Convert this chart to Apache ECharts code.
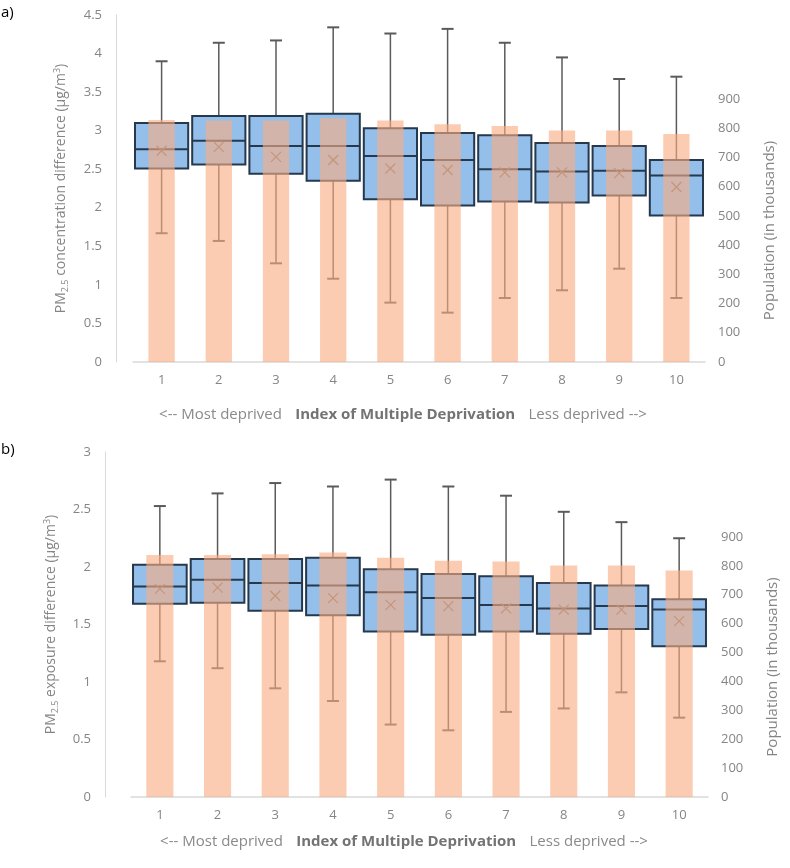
<!DOCTYPE html>
<html>
<head>
<meta charset="utf-8">
<script src="https://cdn.jsdelivr.net/npm/echarts@6/dist/echarts.min.js"></script>
<style>
html,body{margin:0;padding:0;background:#fff;}
#chart{width:790px;height:868px;}
</style>
</head>
<body>
<div id="chart"></div>
<script>
// ---- Data ----
const categories = ['1','2','3','4','5','6','7','8','9','10'];

// Panel a: PM2.5 concentration difference
const aWhiskerHigh = [3.90, 4.14, 4.17, 4.34, 4.26, 4.32, 4.14, 3.95, 3.67, 3.70];
const aQ3          = [3.10, 3.19, 3.19, 3.22, 3.03, 2.97, 2.94, 2.84, 2.80, 2.62];
const aMedian      = [2.76, 2.87, 2.80, 2.80, 2.67, 2.62, 2.50, 2.47, 2.48, 2.42];
const aQ1          = [2.51, 2.56, 2.44, 2.35, 2.11, 2.03, 2.08, 2.07, 2.16, 1.90];
const aMean        = [2.74, 2.79, 2.66, 2.62, 2.51, 2.49, 2.46, 2.46, 2.45, 2.27];
const aWhiskerLow  = [1.67, 1.57, 1.28, 1.08, 0.77, 0.64, 0.83, 0.93, 1.21, 0.83];
const aPopulation  = [828, 826, 826, 834, 826, 814, 808, 792, 792, 780];

// Panel b: PM2.5 exposure difference
const bWhiskerHigh = [2.53, 2.64, 2.73, 2.70, 2.76, 2.70, 2.62, 2.48, 2.39, 2.25];
const bQ3          = [2.02, 2.07, 2.07, 2.08, 1.98, 1.94, 1.92, 1.86, 1.84, 1.72];
const bMedian      = [1.83, 1.89, 1.86, 1.84, 1.78, 1.73, 1.67, 1.64, 1.66, 1.63];
const bQ1          = [1.68, 1.69, 1.62, 1.58, 1.44, 1.41, 1.44, 1.42, 1.46, 1.31];
const bMean        = [1.81, 1.82, 1.75, 1.73, 1.67, 1.66, 1.64, 1.63, 1.63, 1.53];
const bWhiskerLow  = [1.18, 1.12, 0.945, 0.835, 0.63, 0.58, 0.74, 0.77, 0.91, 0.69];
const bPopulation  = [838, 838, 840, 846, 828, 818, 815, 801, 801, 784];

const leftTicksA = [0, 4.5, 0.5];   // min, max, interval
const leftTicksB = [0, 3, 0.5];
const rightTicks = [0, 900, 100];

// ---- Build ----
function boxData(lo, q1, med, q3, hi, mean) {
  return categories.map((c, i) => [i, lo[i], q1[i], med[i], q3[i], hi[i], mean[i]]);
}
const FONT = 'Open Sans';
const GRAY = '#858585';
const BOXSTROKE = '#25384d';
const WHISK = '#5a5a5a';

function renderBox(params, api) {
  const idx = api.value(0);
  const cx = api.coord([idx, 0])[0];
  const y = v => api.coord([idx, v])[1];
  const w = api.size([1, 0])[0] * 0.93;
  const yLo = y(api.value(1)), yQ1 = y(api.value(2)), yMed = y(api.value(3)),
        yQ3 = y(api.value(4)), yHi = y(api.value(5)), yMean = y(api.value(6));
  const cap = 6, m = 5;
  const ls = (x1, y1, x2, y2, stroke, lw) => ({type: 'line', shape: {x1, y1, x2, y2}, style: {stroke, lineWidth: lw}});
  return {
    type: 'group',
    children: [
      ls(cx, yQ3, cx, yHi, WHISK, 1.5),
      ls(cx - cap, yHi, cx + cap, yHi, WHISK, 2),
      ls(cx, yQ1, cx, yLo, WHISK, 1.5),
      ls(cx - cap, yLo, cx + cap, yLo, WHISK, 2),
      {type: 'rect', shape: {x: cx - w / 2, y: yQ3, width: w, height: yQ1 - yQ3},
       style: {fill: '#93bfea', stroke: BOXSTROKE, lineWidth: 2}},
      ls(cx - w / 2, yMed, cx + w / 2, yMed, BOXSTROKE, 2),
      ls(cx - m, yMean - m, cx + m, yMean + m, '#707070', 1.2),
      ls(cx - m, yMean + m, cx + m, yMean - m, '#707070', 1.2)
    ]
  };
}

const nameRich = {
  n: {fontSize: 14, fontFamily: FONT, color: GRAY, lineHeight: 17},
  sub: {fontSize: 9, fontFamily: FONT, color: GRAY, lineHeight: 8, verticalAlign: 'bottom'},
  sup: {fontSize: 9, fontFamily: FONT, color: GRAY, lineHeight: 9, verticalAlign: 'top'}
};

function leftAxis(grid, ticks, offset, name, gap) {
  return {
    type: 'value', gridIndex: grid, position: 'left', offset: offset,
    min: ticks[0], max: ticks[1], interval: ticks[2],
    axisLine: {show: true, lineStyle: {color: '#d9d9d9', width: 1}},
    axisTick: {show: false}, splitLine: {show: false},
    axisLabel: {color: GRAY, fontSize: 13, fontFamily: FONT, margin: 14},
    name: name, nameLocation: 'middle', nameRotate: 90, nameGap: gap,
    nameTextStyle: {rich: nameRich, fontSize: 14, fontFamily: FONT, color: GRAY}
  };
}
function rightAxis(grid, gap) {
  return {
    type: 'value', gridIndex: grid, position: 'right',
    min: rightTicks[0], max: rightTicks[1], interval: rightTicks[2],
    axisLine: {show: false}, axisTick: {show: false}, splitLine: {show: false},
    axisLabel: {color: GRAY, fontSize: 13, fontFamily: FONT, margin: 13},
    name: 'Population (in thousands)', nameLocation: 'middle', nameRotate: 90, nameGap: gap,
    nameTextStyle: {color: GRAY, fontSize: 15, fontFamily: FONT}
  };
}
function hiddenX(grid) {
  return {type: 'category', gridIndex: grid, data: categories, show: false};
}
function shownX(grid) {
  return {
    type: 'category', gridIndex: grid, data: categories,
    axisLine: {show: true, lineStyle: {color: '#d9d9d9', width: 1.5}},
    axisTick: {show: false},
    axisLabel: {color: GRAY, fontSize: 13, fontFamily: FONT, margin: 12}
  };
}

const xTitleRich = {
  a: {fontSize: 15, fontFamily: FONT, fill: '#8a8a8a'},
  b: {fontSize: 15, fontFamily: FONT, fill: '#737373', fontWeight: 'bold'}
};
const xTitleText = '{a|<-- Most deprived}    {b|Index of Multiple Deprivation}    {a|Less deprived -->}';

const chart = echarts.init(document.getElementById('chart'), null, {renderer: 'canvas'});
chart.setOption({
  backgroundColor: '#ffffff',
  animation: false,
  grid: [
    {left: 133, top: 15, width: 572, height: 347},
    {left: 133, top: 99, width: 572, height: 263},
    {left: 131, top: 452, width: 577, height: 345},
    {left: 131, top: 537, width: 577, height: 260}
  ],
  xAxis: [hiddenX(0), shownX(1), hiddenX(2), shownX(3)],
  yAxis: [
    leftAxis(0, leftTicksA, 17, '{n|PM}{sub|2.5}{n| concentration difference (μg/m}{sup|3}{n|)}', 46),
    rightAxis(1, 57),
    leftAxis(2, leftTicksB, 26, '{n|PM}{sub|2.5}{n| exposure difference (μg/m}{sup|3}{n|)}', 45),
    rightAxis(3, 57)
  ],
  graphic: [
    {type: 'text', left: 1, top: 5, style: {text: 'a)', fontSize: 15, fontFamily: FONT, fill: '#000'}},
    {type: 'text', left: 1, top: 442, style: {text: 'b)', fontSize: 15, fontFamily: FONT, fill: '#000'}},
    {type: 'text', x: 403, y: 415, style: {text: xTitleText, rich: xTitleRich, fill: '#8a8a8a', align: 'center', verticalAlign: 'middle'}},
    {type: 'text', x: 404, y: 842, style: {text: xTitleText, rich: xTitleRich, fill: '#8a8a8a', align: 'center', verticalAlign: 'middle'}}
  ],
  series: [
    {type: 'custom', xAxisIndex: 0, yAxisIndex: 0, z: 2, renderItem: renderBox,
     encode: {x: 0, y: [1, 2, 3, 4, 5, 6]},
     data: boxData(aWhiskerLow, aQ1, aMedian, aQ3, aWhiskerHigh, aMean)},
    {type: 'bar', xAxisIndex: 1, yAxisIndex: 1, z: 3, data: aPopulation, barWidth: '46%',
     itemStyle: {color: 'rgba(248,172,130,0.62)'}},
    {type: 'custom', xAxisIndex: 2, yAxisIndex: 2, z: 2, renderItem: renderBox,
     encode: {x: 0, y: [1, 2, 3, 4, 5, 6]},
     data: boxData(bWhiskerLow, bQ1, bMedian, bQ3, bWhiskerHigh, bMean)},
    {type: 'bar', xAxisIndex: 3, yAxisIndex: 3, z: 3, data: bPopulation, barWidth: '47%',
     itemStyle: {color: 'rgba(248,172,130,0.62)'}}
  ]
});
</script>
</body>
</html>
